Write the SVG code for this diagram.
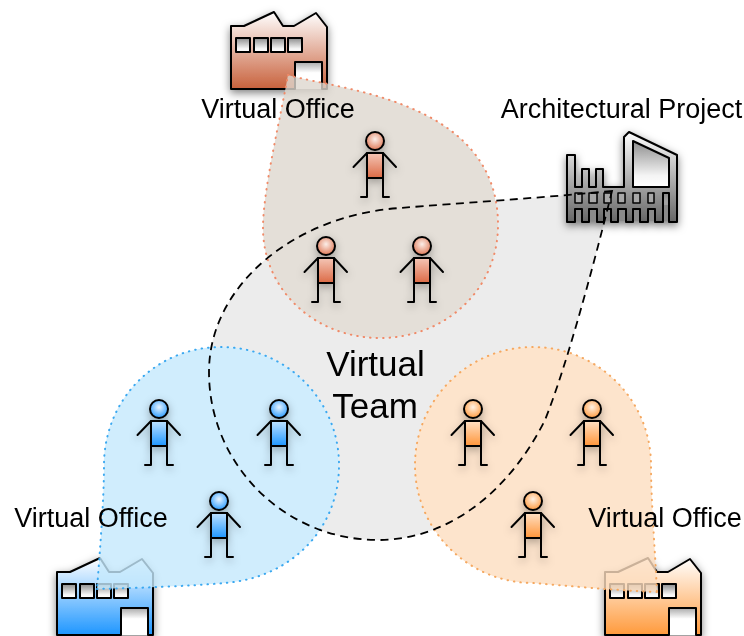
<svg xmlns="http://www.w3.org/2000/svg" width="744" height="636" viewBox="0 0 744 636">
<style>
text{font-family:"Liberation Sans",Arial,sans-serif;fill:#000;font-size:27px;text-anchor:middle}
.big{font-size:35px}
.o{stroke:#000;stroke-width:2;stroke-linejoin:round;stroke-linecap:round}
.w{fill:url(#win)}
.l{fill:none}
.blob{stroke-width:2;stroke-dasharray:.5 6;stroke-linecap:round;fill-opacity:.8}
.under{fill:#fff}
</style>
<defs>
<filter id="sh" x="-30%" y="-30%" width="160%" height="170%"><feDropShadow dx="0" dy="3" stdDeviation="4" flood-color="#000" flood-opacity=".5"/></filter>
<filter id="sp" x="-50%" y="-30%" width="200%" height="170%"><feDropShadow dx="0" dy="3" stdDeviation="4" flood-color="#000" flood-opacity=".3"/></filter>
<linearGradient id="win" x1="0" y1="0" x2="0" y2="1"><stop offset="0" stop-color="#8c8c8c"/><stop offset=".75" stop-color="#f4f4f4"/><stop offset="1" stop-color="#fff"/></linearGradient>
<linearGradient id="door" x1="0" y1="0" x2="0" y2="1"><stop offset="0" stop-color="#aaa"/><stop offset=".4" stop-color="#fff"/></linearGradient>
<linearGradient id="fr" x1="0" y1="0" x2="0" y2="1"><stop offset="0" stop-color="#fff"/><stop offset="1" stop-color="#c8613c"/></linearGradient>
<linearGradient id="fb" x1="0" y1="0" x2="0" y2="1"><stop offset="0" stop-color="#fff"/><stop offset="1" stop-color="#1e96ff"/></linearGradient>
<linearGradient id="fo" x1="0" y1="0" x2="0" y2="1"><stop offset="0" stop-color="#fff"/><stop offset="1" stop-color="#ff9a3c"/></linearGradient>
<linearGradient id="fg" x1="0" y1="0" x2="0" y2="1"><stop offset="0" stop-color="#fff"/><stop offset="1" stop-color="#666"/></linearGradient>
<radialGradient id="hr" cx=".5" cy=".4" r=".6"><stop offset="0" stop-color="#fbeee8"/><stop offset="1" stop-color="#e07a58"/></radialGradient>
<radialGradient id="hb" cx=".5" cy=".4" r=".6"><stop offset="0" stop-color="#e8f4ff"/><stop offset="1" stop-color="#2b9cff"/></radialGradient>
<radialGradient id="ho" cx=".5" cy=".4" r=".6"><stop offset="0" stop-color="#fff2e4"/><stop offset="1" stop-color="#ff9c42"/></radialGradient>
<linearGradient id="br" x1="0" y1="0" x2="0" y2="1"><stop offset="0" stop-color="#f4c6b6"/><stop offset="1" stop-color="#dc6a45"/></linearGradient>
<linearGradient id="bb" x1="0" y1="0" x2="0" y2="1"><stop offset="0" stop-color="#bfe2ff"/><stop offset="1" stop-color="#1e96ff"/></linearGradient>
<linearGradient id="bo" x1="0" y1="0" x2="0" y2="1"><stop offset="0" stop-color="#ffe0c4"/><stop offset="1" stop-color="#ff963a"/></linearGradient>
<path id="team" d="M612,191C540,198 460,203 400,208C295,215 209,285 209,372C209,465 285,540 378,540C450,540 510,490 545,420C565,370 590,280 612,191Z"/>
<path id="bred" d="M288,75C340,90 498,100 498,225C498,290 445,338 380,338C315,338 263,290 263,228C263,190 280,120 288,75Z"/>
<path id="bblue" d="M97,589C140,588 190,586 225,583C290,578 339,530 339,465C339,400 286,347 221,347C155,347 104,400 104,465C104,500 100,550 97,589Z"/>
<path id="borange" d="M657,592C610,590 570,586 533,583C468,583 415,530 415,465C415,400 468,347 533,347C598,347 651,400 651,465C651,500 655,550 657,592Z"/>
<g id="limbs" class="o l"><path d="M-8,12L-21.500,26M8,12L21,26M-8,37V56H-14M8,37V56H14"/></g>
<path id="fdoor" fill="url(#door)" d="M64,50H91V77H64Z"/>
<path id="fshape" d="M64,77H0V14H13L43,0L52,14H63L85,1L96,15V77H91V50H64Z"/>
<g id="fw" class="o">
<rect class="w" x="5" y="26" width="14" height="14"/><rect class="w" x="23" y="26" width="14" height="14"/><rect class="w" x="40" y="26" width="14" height="14"/><rect class="w" x="57" y="26" width="14" height="14"/>
</g>
</defs>
<rect width="744" height="636" fill="#fff"/>

<g id="team-area"><use href="#team" fill="#ececec"/></g>
<g id="blob-base"><use href="#bred" class="under"/><use href="#bblue" class="under"/><use href="#borange" class="under"/></g>

<g id="factory-red" filter="url(#sh)" transform="translate(231,12)"><use href="#fdoor"/><use href="#fshape" class="o" fill="url(#fr)"/><use href="#fw"/></g>
<g id="factory-blue" filter="url(#sh)" transform="translate(57,558)"><use href="#fdoor"/><use href="#fshape" class="o" fill="url(#fb)"/><use href="#fw"/></g>
<g id="factory-orange" filter="url(#sh)" transform="translate(605,558)"><use href="#fdoor"/><use href="#fshape" class="o" fill="url(#fo)"/><use href="#fw"/></g>

<g id="factory-project" filter="url(#sh)">
<rect x="568" y="205" width="108" height="16" fill="#8a8a8a"/>
<path class="o" fill="url(#fg)" d="M567,222V155H575V187H582V169H589V187H596V169H603V187H624V137L629,132L677,155V222H669V193H663V222H655V209H648V222H640V209H633V222H626V209H618V222H611V209H604V222H597V209H589V222H582V209H575V222Z"/>
<path class="o w" d="M633,141L669,158V187H633Z"/>
<g class="o" fill="#a8a8a8" style="stroke-width:1.500"><rect x="575" y="193" width="7" height="10"/><rect x="589" y="193" width="8" height="10"/><rect x="604" y="193" width="7" height="10"/><rect x="618" y="193" width="7" height="10"/><rect x="633" y="193" width="7" height="10"/><rect x="648" y="193" width="6" height="10"/></g>
</g>

<g id="office-red"><use href="#bred" class="blob" fill="#ddd7ce" stroke="#f08a68"/></g>
<g id="office-blue"><use href="#bblue" class="blob" fill="#c4e8fc" stroke="#3aa8f0"/></g>
<g id="office-orange"><use href="#borange" class="blob" fill="#fcddbf" stroke="#f5a860"/></g>

<g id="connectors"><use href="#team" fill="none" stroke="#000" stroke-width="1.800" stroke-dasharray="8 5.500"/></g>

<g id="people" filter="url(#sp)">
<g id="p1" transform="translate(375,141)"><use href="#limbs"/><rect class="o" x="-8" y="12" width="16" height="25" fill="url(#br)"/><circle class="o" r="9" fill="url(#hr)"/></g>
<g id="p2" transform="translate(326,246)"><use href="#limbs"/><rect class="o" x="-8" y="12" width="16" height="25" fill="url(#br)"/><circle class="o" r="9" fill="url(#hr)"/></g>
<g id="p3" transform="translate(422,246)"><use href="#limbs"/><rect class="o" x="-8" y="12" width="16" height="25" fill="url(#br)"/><circle class="o" r="9" fill="url(#hr)"/></g>
<g id="p4" transform="translate(159,409)"><use href="#limbs"/><rect class="o" x="-8" y="12" width="16" height="25" fill="url(#bb)"/><circle class="o" r="9" fill="url(#hb)"/></g>
<g id="p5" transform="translate(279,409)"><use href="#limbs"/><rect class="o" x="-8" y="12" width="16" height="25" fill="url(#bb)"/><circle class="o" r="9" fill="url(#hb)"/></g>
<g id="p6" transform="translate(219,501)"><use href="#limbs"/><rect class="o" x="-8" y="12" width="16" height="25" fill="url(#bb)"/><circle class="o" r="9" fill="url(#hb)"/></g>
<g id="p7" transform="translate(473,409)"><use href="#limbs"/><rect class="o" x="-8" y="12" width="16" height="25" fill="url(#bo)"/><circle class="o" r="9" fill="url(#ho)"/></g>
<g id="p8" transform="translate(592,409)"><use href="#limbs"/><rect class="o" x="-8" y="12" width="16" height="25" fill="url(#bo)"/><circle class="o" r="9" fill="url(#ho)"/></g>
<g id="p9" transform="translate(533,501)"><use href="#limbs"/><rect class="o" x="-8" y="12" width="16" height="25" fill="url(#bo)"/><circle class="o" r="9" fill="url(#ho)"/></g>
</g>

<g id="labels">
<text x="278" y="118">Virtual Office</text>
<text x="621.500" y="118">Architectural Project</text>
<text x="91" y="527">Virtual Office</text>
<text x="665" y="527">Virtual Office</text>
<text x="375.500" y="376" class="big">Virtual</text>
<text x="375" y="418" class="big">Team</text>
</g>
</svg>
